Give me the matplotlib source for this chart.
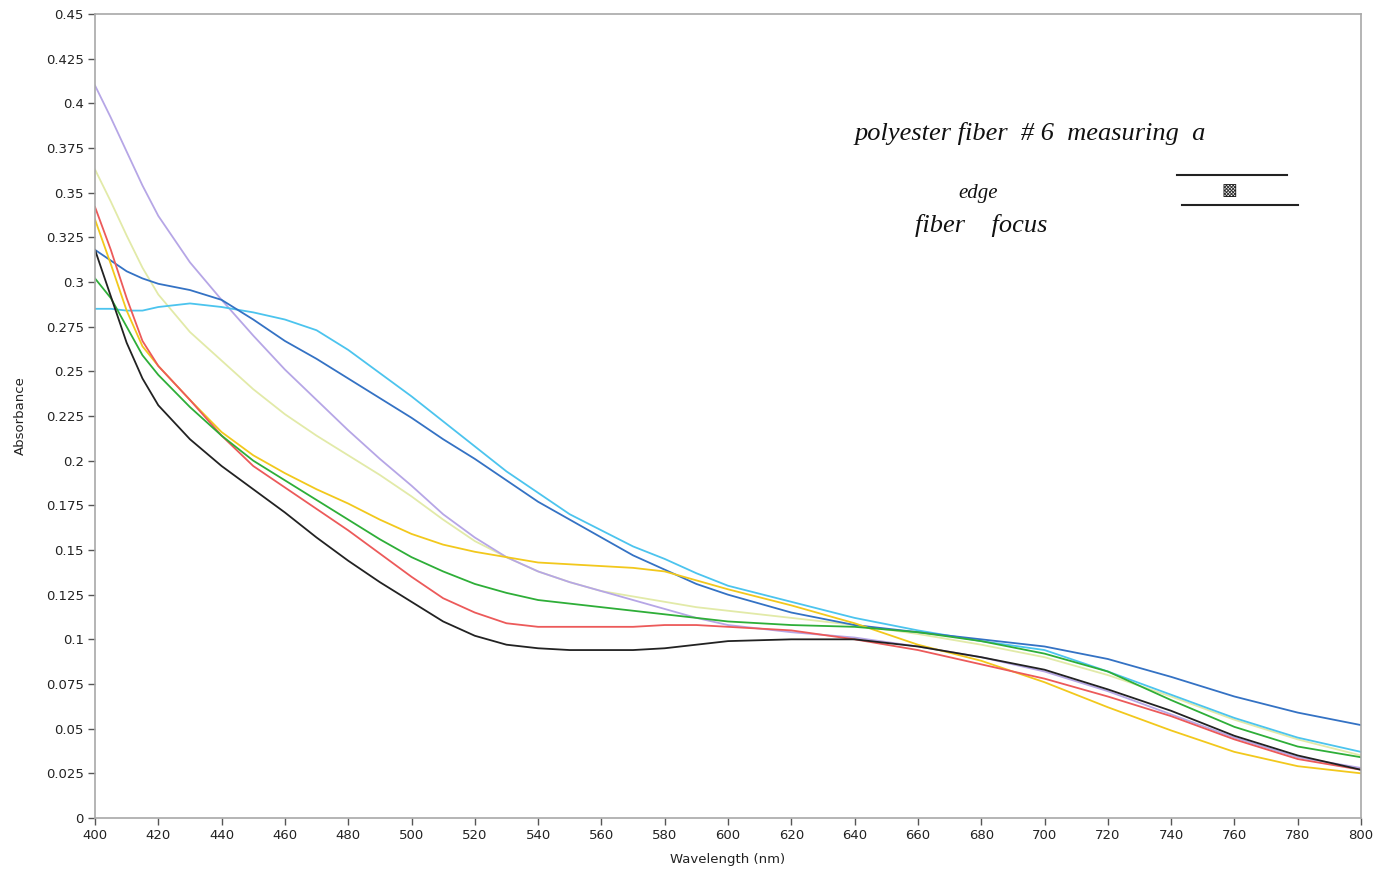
import matplotlib
matplotlib.use("Agg")
import matplotlib.pyplot as plt

wavelength = [400, 405, 410, 415, 420, 430, 440, 450, 460, 470, 480, 490, 500, 510, 520, 530,
              540, 550, 560, 570, 580, 590, 600, 620, 640, 660, 680, 700, 720, 740, 760, 780, 800]

purple = [0.410, 0.392, 0.373, 0.354, 0.337, 0.311, 0.290, 0.270, 0.251, 0.234, 0.217, 0.201, 0.186,
          0.170, 0.157, 0.146, 0.138, 0.132, 0.127, 0.122, 0.117, 0.112, 0.108, 0.104, 0.101, 0.096,
          0.090, 0.082, 0.071, 0.058, 0.045, 0.034, 0.028]
dark_blue = [0.318, 0.312, 0.306, 0.302, 0.299, 0.2955, 0.290, 0.279, 0.267, 0.257, 0.246, 0.235, 0.224,
             0.212, 0.201, 0.189, 0.177, 0.167, 0.157, 0.147, 0.139, 0.131, 0.125, 0.115, 0.108, 0.104,
             0.100, 0.096, 0.089, 0.079, 0.068, 0.059, 0.052]
cyan = [0.285, 0.285, 0.284, 0.284, 0.286, 0.288, 0.286, 0.283, 0.279, 0.273, 0.262, 0.249, 0.236,
        0.222, 0.208, 0.194, 0.182, 0.170, 0.161, 0.152, 0.145, 0.137, 0.130, 0.121, 0.112, 0.105,
        0.099, 0.094, 0.082, 0.069, 0.056, 0.045, 0.037]
pale = [0.363, 0.345, 0.326, 0.308, 0.293, 0.272, 0.256, 0.240, 0.226, 0.214, 0.203, 0.192, 0.180,
        0.167, 0.155, 0.146, 0.138, 0.132, 0.127, 0.124, 0.121, 0.118, 0.116, 0.112, 0.108, 0.103,
        0.097, 0.090, 0.080, 0.068, 0.055, 0.044, 0.035]
yellow = [0.335, 0.310, 0.284, 0.264, 0.253, 0.234, 0.216, 0.203, 0.193, 0.184, 0.176, 0.167, 0.159,
          0.153, 0.149, 0.146, 0.143, 0.142, 0.141, 0.140, 0.138, 0.133, 0.128, 0.119, 0.109, 0.097,
          0.088, 0.076, 0.062, 0.049, 0.037, 0.029, 0.025]
green = [0.302, 0.291, 0.275, 0.259, 0.248, 0.230, 0.214, 0.200, 0.189, 0.178, 0.167, 0.156, 0.146,
         0.138, 0.131, 0.126, 0.122, 0.120, 0.118, 0.116, 0.114, 0.112, 0.110, 0.108, 0.107, 0.104,
         0.099, 0.092, 0.082, 0.066, 0.051, 0.040, 0.034]
red = [0.342, 0.318, 0.291, 0.267, 0.253, 0.234, 0.214, 0.197, 0.185, 0.173, 0.161, 0.148, 0.135,
       0.123, 0.115, 0.109, 0.107, 0.107, 0.107, 0.107, 0.108, 0.108, 0.107, 0.105, 0.100, 0.094,
       0.086, 0.078, 0.068, 0.057, 0.044, 0.033, 0.027]
black = [0.318, 0.292, 0.266, 0.246, 0.231, 0.212, 0.197, 0.184, 0.171, 0.157, 0.144, 0.132, 0.121,
         0.110, 0.102, 0.097, 0.095, 0.094, 0.094, 0.094, 0.095, 0.097, 0.099, 0.100, 0.100, 0.096,
         0.090, 0.083, 0.072, 0.060, 0.046, 0.035, 0.027]

series = [
    (pale, "#e2eaa8"),
    (purple, "#b6a6e6"),
    (cyan, "#4cc4ee"),
    (dark_blue, "#3472c4"),
    (yellow, "#f2c81c"),
    (red, "#ec5a5a"),
    (green, "#2eae38"),
    (black, "#222222"),
]

x_ticks = list(range(400, 801, 20))
y_ticks = [i * 0.025 for i in range(19)]
y_labels = ["0", "0.025", "0.05", "0.075", "0.1", "0.125", "0.15", "0.175", "0.2", "0.225",
            "0.25", "0.275", "0.3", "0.325", "0.35", "0.375", "0.4", "0.425", "0.45"]

fig = plt.figure(figsize=(13.77, 8.77), dpi=100)
ax = fig.add_axes([95 / 1377, 1 - 818 / 877, (1361 - 95) / 1377, (818 - 14) / 877])

for vals, col in series:
    ax.plot(wavelength, vals, color=col, lw=1.3, solid_joinstyle="round")

ax.set_xlim(400, 800)
ax.set_ylim(0, 0.45)
ax.set_xticks(x_ticks)
ax.set_xticklabels([str(v) for v in x_ticks])
ax.set_yticks(y_ticks)
ax.set_yticklabels(y_labels)
ax.tick_params(axis="both", direction="out", length=5, width=1, color="#555555",
               labelsize=9.5, labelcolor="#222222", pad=3)
for s in ax.spines.values():
    s.set_color("#a8a8a8")
    s.set_linewidth(1.2)

ax.set_xlabel("Wavelength (nm)", fontsize=9.5, color="#222222", labelpad=8)
ax.set_ylabel("Absorbance", fontsize=9.5, color="#222222", labelpad=14)

# handwritten annotation
fig.text(855 / 1377, 1 - 140 / 877, "polyester fiber  # 6  measuring  a",
         fontsize=19, family="Liberation Serif", style="italic", color="#111111",
         va="baseline", ha="left")
fig.text(915 / 1377, 1 - 232 / 877, "fiber    focus", fontsize=19,
         family="Liberation Serif", style="italic", color="#111111", va="baseline", ha="left")
fig.text(958 / 1377, 1 - 198 / 877, "edge", fontsize=15,
         family="Liberation Serif", style="italic", color="#111111", va="baseline", ha="left")
fig.add_artist(plt.Line2D([1177 / 1377, 1287 / 1377], [1 - 175 / 877, 1 - 175 / 877],
                          color="#222222", lw=1.5, transform=fig.transFigure))
fig.add_artist(plt.Line2D([1182 / 1377, 1298 / 1377], [1 - 205 / 877, 1 - 205 / 877],
                          color="#222222", lw=1.5, transform=fig.transFigure))
fig.text(1229 / 1377, 1 - 190 / 877, "\u25a9", fontsize=12, color="#222222",
         ha="center", va="center", family="DejaVu Sans")

fig.savefig("out.png", dpi=100)
